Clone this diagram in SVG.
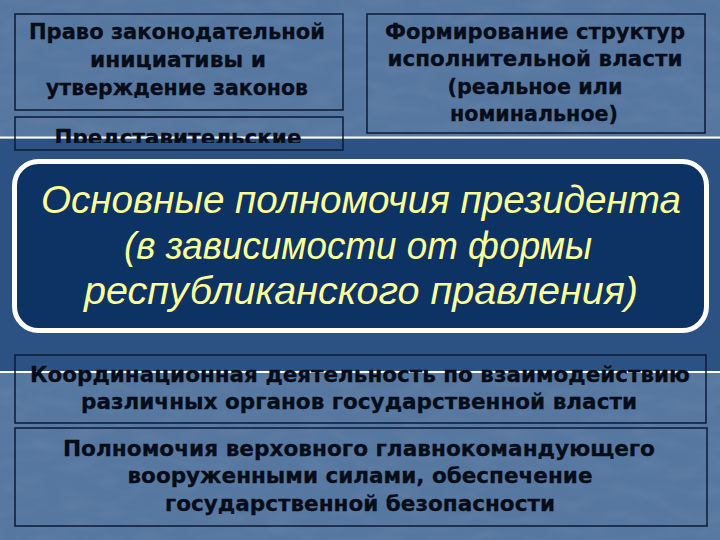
<svg xmlns="http://www.w3.org/2000/svg" width="720" height="540" viewBox="0 0 720 540">
  <defs>
    <filter id="tex" x="0" y="0" width="100%" height="100%">
      <feTurbulence type="fractalNoise" baseFrequency="0.03 0.08" numOctaves="2" seed="7" result="n"/>
      <feColorMatrix in="n" type="matrix" values="0 0 0 0 1  0 0 0 0 1  0 0 0 0 1  1 0 0 0 -0.4" result="w"/>
      <feComposite in="w" in2="SourceGraphic" operator="in"/>
    </filter>
    <clipPath id="clipRep"><rect x="0" y="100" width="720" height="43"/></clipPath>
    <style>
      .box{fill:none;stroke:#0b1a35;stroke-width:1.5}
      .bt{font-family:"DejaVu Sans","Verdana","Liberation Sans",sans-serif;font-weight:bold;font-size:22px;fill:#060c18;stroke:#060c18;stroke-width:0.3;text-anchor:middle}
      .mt{font-family:"Liberation Sans","Arial",sans-serif;font-style:italic;font-size:39px;fill:#ffff99;text-anchor:middle}
      .wl{fill:#ffffff}
    </style>
  </defs>

  <!-- background -->
  <rect x="0" y="0" width="720" height="540" fill="#5677a0"/>
  <rect x="0" y="0" width="720" height="540" fill="#ffffff" opacity="0.1" filter="url(#tex)"/>
  <rect x="0" y="139" width="720" height="233" fill="#2c5283"/>
  <rect class="wl" x="0" y="136.5" width="720" height="2"/>
  <rect class="wl" x="0" y="371" width="720" height="2"/>

  <g id="node-legislative">
    <rect class="box" x="15" y="14" width="328" height="96"/>
    <text class="bt" x="177" y="39" textLength="296" lengthAdjust="spacingAndGlyphs">Право законодательной</text>
    <text class="bt" x="178" y="67" textLength="176" lengthAdjust="spacingAndGlyphs">инициативы и</text>
    <text class="bt" x="177" y="95" textLength="262" lengthAdjust="spacingAndGlyphs">утверждение законов</text>
  </g>

  <g id="node-representative">
    <rect class="box" x="15" y="117" width="328" height="33"/>
    <text class="bt" x="178" y="145" textLength="247" lengthAdjust="spacingAndGlyphs" clip-path="url(#clipRep)">Представительские</text>
  </g>

  <g id="node-executive">
    <rect class="box" x="367" y="14" width="338" height="119"/>
    <text class="bt" x="535" y="39" textLength="300" lengthAdjust="spacingAndGlyphs">Формирование структур</text>
    <text class="bt" x="535" y="66" textLength="295" lengthAdjust="spacingAndGlyphs">исполнительной власти</text>
    <text class="bt" x="535" y="94" textLength="175" lengthAdjust="spacingAndGlyphs">(реальное или</text>
    <text class="bt" x="534" y="121" textLength="168" lengthAdjust="spacingAndGlyphs">номинальное)</text>
  </g>

  <g id="node-main">
    <rect x="14.5" y="161.5" width="692" height="169" rx="24" ry="24" fill="#0d3264" stroke="#ffffff" stroke-width="5"/>
    <text class="mt" x="361" y="213" textLength="640" lengthAdjust="spacingAndGlyphs">Основные полномочия президента</text>
    <text class="mt" x="358" y="259" textLength="468" lengthAdjust="spacingAndGlyphs">(в зависимости от формы</text>
    <text class="mt" x="361" y="304" textLength="554" lengthAdjust="spacingAndGlyphs">республиканского правления)</text>
  </g>

  <g id="node-coordination">
    <rect class="box" x="15" y="355" width="691" height="68"/>
    <text class="bt" x="360" y="382" textLength="660" lengthAdjust="spacingAndGlyphs">Координационная деятельность по взаимодействию</text>
    <text class="bt" x="359" y="409" textLength="556" lengthAdjust="spacingAndGlyphs">различных органов государственной власти</text>
  </g>

  <g id="node-military">
    <rect class="box" x="15" y="428" width="692" height="98"/>
    <text class="bt" x="359" y="456" textLength="592" lengthAdjust="spacingAndGlyphs">Полномочия верховного главнокомандующего</text>
    <text class="bt" x="360" y="483" textLength="465" lengthAdjust="spacingAndGlyphs">вооруженными силами, обеспечение</text>
    <text class="bt" x="360" y="511" textLength="390" lengthAdjust="spacingAndGlyphs">государственной безопасности</text>
  </g>

  <g id="connectors"/>
</svg>
